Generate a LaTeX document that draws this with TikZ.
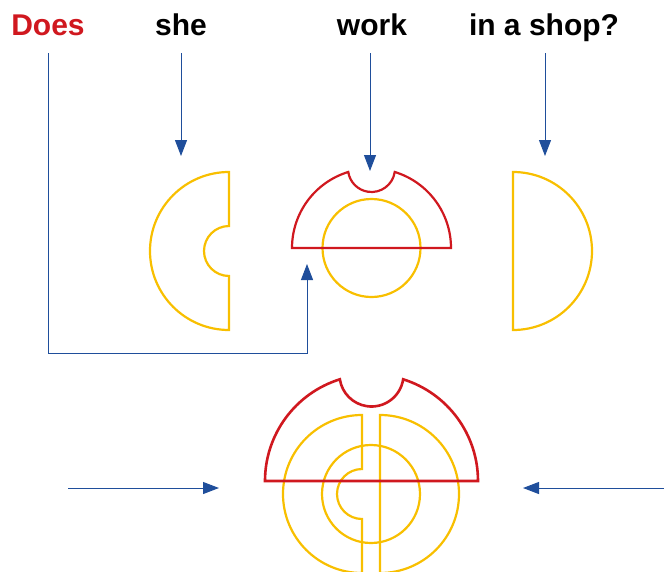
\documentclass[tikz,border=0pt]{standalone}
\usepackage{fontspec}
\setmainfont{Liberation Sans}
\usetikzlibrary{arrows.meta}
\definecolor{wred}{HTML}{D0181F}
\definecolor{wyel}{HTML}{F8BF00}
\definecolor{wblue}{HTML}{1F4E9B}
\tikzset{
  word/.style={anchor=base,inner sep=0pt,font=\fontsize{30}{30}\selectfont\bfseries},
  conn/.style={draw=wblue,line width=1pt,-{Triangle[length=16pt,width=12pt]}},
  ypiece/.style={draw=wyel,line width=2.2pt},
  rpiece/.style={draw=wred,line width=2.2pt},
}
\begin{document}
\begin{tikzpicture}[x=1pt,y=1pt]
\useasboundingbox (0,0) rectangle (664,-571);
\clip (0,0) rectangle (664,-571);
% words
\node[word,text=wred] (does) at (48,-35) {Does};
\node[word] (she) at (181,-35) {she};
\node[word] (work) at (372,-35) {work};
\node[word] (shop) at (544,-35) {in a shop?};
% connector points
\coordinate (d0) at (48,-53);
\coordinate (d1) at (48,-353);
\coordinate (d2) at (307,-353);
\coordinate (dT) at (307,-264);
\coordinate (s0) at (181,-53);
\coordinate (sT) at (181,-156);
\coordinate (w0) at (370,-53);
\coordinate (wT) at (370,-171);
\coordinate (p0) at (545,-53);
\coordinate (pT) at (545,-156);
\coordinate (l0) at (68,-488);
\coordinate (lT) at (219,-488);
\coordinate (r0) at (665,-488);
\coordinate (rT) at (523,-488);
% connectors
\draw[conn] (d0) -- (d1) -- (d2) -- (dT);
\draw[conn] (s0) -- (sT);
\draw[conn] (w0) -- (wT);
\draw[conn] (p0) -- (pT);
\draw[conn] (l0) -- (lT);
\draw[conn] (r0) -- (rT);
% shape "she": C
\draw[ypiece] (229,-172) arc[start angle=90,end angle=270,radius=79pt]
  -- (229,-276) arc[start angle=270,end angle=90,radius=25pt] -- cycle;
% shape "work"
\draw[ypiece] (371.5,-248) circle[radius=49pt];
\draw[rpiece] (451,-248) arc[start angle=0,end angle=73,radius=79.5pt]
  arc[start angle=-8.5,end angle=-171.5,radius=23.5pt]
  arc[start angle=107,end angle=180,radius=79.5pt] -- cycle;
% shape "in a shop": D
\draw[ypiece] (513,-172) arc[start angle=90,end angle=-90,radius=79pt] -- cycle;
% combined
\draw[ypiece] (362,-415) arc[start angle=90,end angle=270,radius=79pt]
  -- (362,-519) arc[start angle=270,end angle=90,radius=25pt] -- cycle;
\draw[ypiece] (380,-415) arc[start angle=90,end angle=-90,radius=79pt] -- cycle;
\draw[ypiece] (371,-494) circle[radius=49pt];
\draw[rpiece,line width=2.6pt] (478,-481) arc[start angle=0,end angle=72.72,radius=106.5pt]
  arc[start angle=-8.64,end angle=-171.36,radius=32pt]
  arc[start angle=107.28,end angle=180,radius=106.5pt] -- cycle;
\end{tikzpicture}
\end{document}
